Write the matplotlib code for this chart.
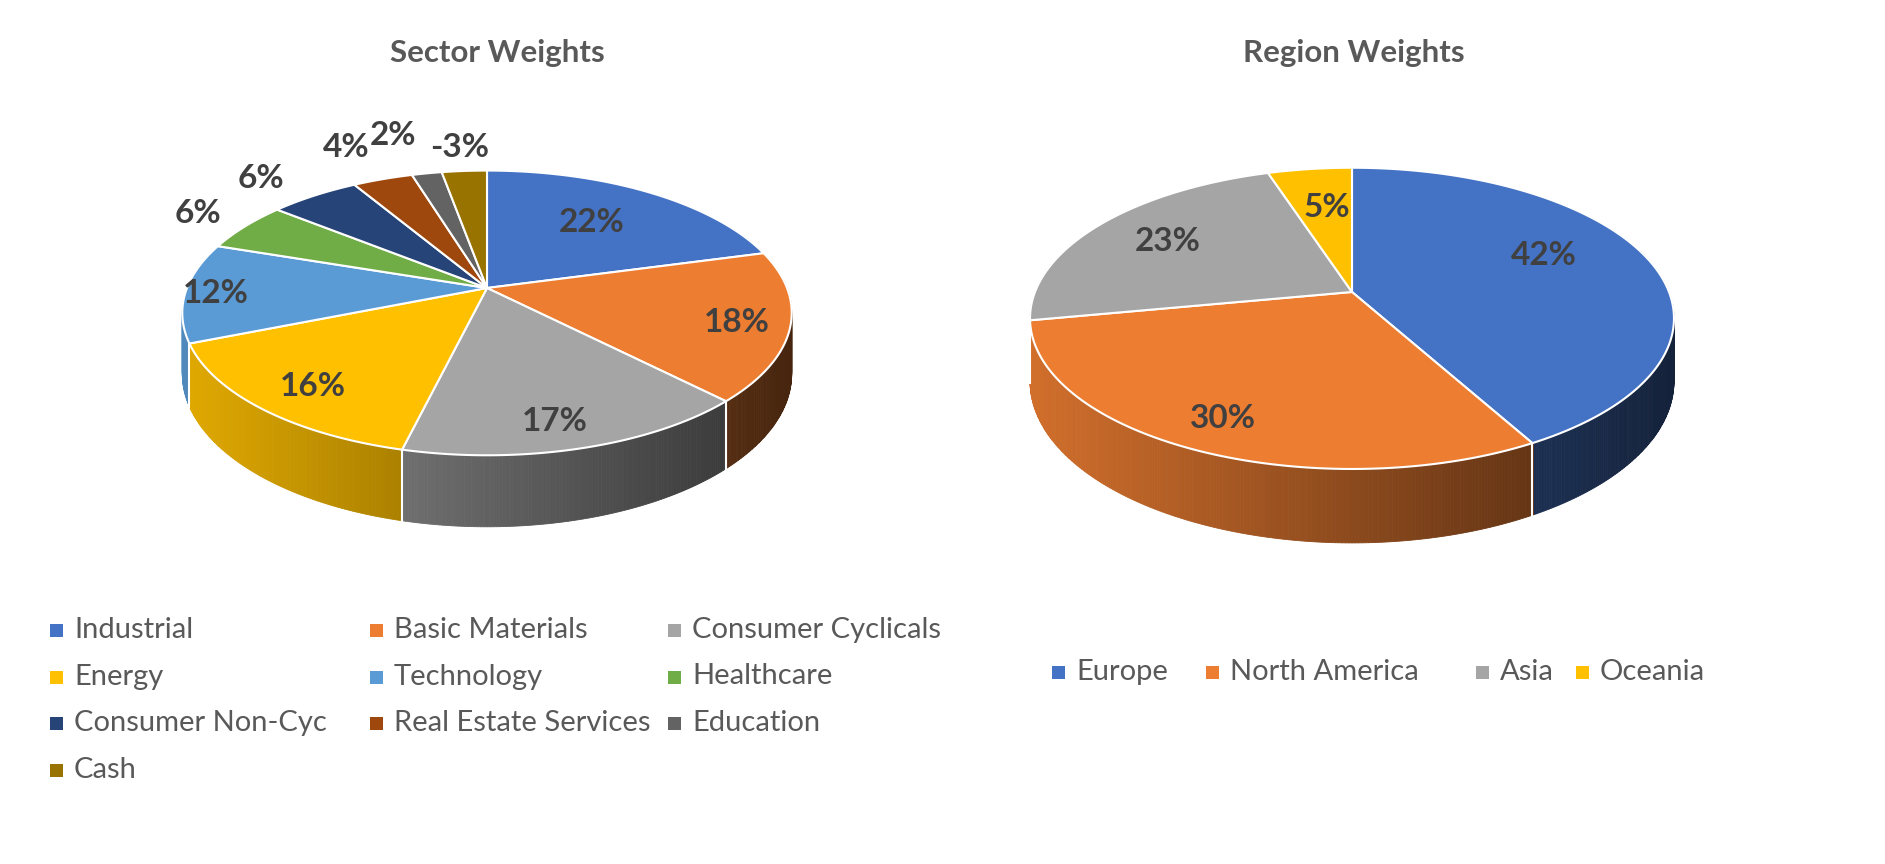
import numpy as np
import matplotlib.pyplot as plt
from matplotlib.colors import to_rgb

plt.rcParams['font.family'] = ['Lato', 'DejaVu Sans']

# data
sector_names = ["Industrial", "Basic Materials", "Consumer Cyclicals", "Energy",
                "Technology", "Healthcare", "Consumer Non-Cyc",
                "Real Estate Services", "Education", "Cash"]
sector_values = [22, 18, 17, 16, 12, 6, 6, 4, 2, -3]
sector_colors = ["#4472C4", "#ED7D31", "#A5A5A5", "#FFC000", "#5B9BD5",
                 "#70AD47", "#264478", "#9E480E", "#636363", "#997300"]

region_names = ["Europe", "North America", "Asia", "Oceania"]
region_values = [42, 30, 23, 5]
region_colors = ["#4472C4", "#ED7D31", "#A5A5A5", "#FFC000"]

# label placement: distance from centre (fraction of radius) and a pixel nudge
sector_label_r = [0.65, 0.83, 0.8, 0.81, 0.9, 1.24, 1.22, 1.3, 1.32, 1.26]
sector_label_nudge = [(-4, 0), (0, 3), (-5, 10), (4, 4), (0, 2),
                      (6, 0), (-20, 0), (-11, -5), (-18, -8), (0, 2)]
region_label_r = [0.72, 0.83, 0.73, 0.65]
region_label_nudge = [(-23, -11), (0, 0), (3, 0), (4, 0)]

K = 0.175  # perspective strength
LABEL_COLOR = "#404040"
TEXT_COLOR = "#595959"

left_pie = dict(cx=487, cy=288, rx=300, ry=138, depth=59)
right_pie = dict(cx=1352, cy=292, rx=317, ry=146, depth=61)


def proj(pie, t, rho=1.0, drop=0.0):
    u = rho * np.cos(t)
    v = rho * np.sin(t)
    s = 1.0 / (1.0 + K * v)
    x = pie["cx"] + pie["rx"] * u * s
    y = pie["cy"] - pie["ry"] * v * s + drop * pie["depth"] * s
    return x, y


def draw_pie(ax, pie, values, colors, label_r, label_nudge):
    sizes = np.abs(np.array(values, dtype=float))
    cum = np.cumsum(sizes) / sizes.sum() * 360
    bounds = np.radians(90 - np.concatenate([[0], cum]))

    # side wall, far strips first
    n = 720
    ts = np.linspace(-np.pi, np.pi, n + 1)
    strips = []
    for i in range(n):
        tm = 0.5 * (ts[i] + ts[i + 1])
        if np.sin(tm) > 0.3:
            continue
        deg = (90 - np.degrees(tm)) % 360
        idx = min(np.searchsorted(cum, deg, side="right"), len(sizes) - 1)
        strips.append((np.sin(tm), ts[i], ts[i + 1], idx))
    strips.sort(key=lambda s: -s[0])
    left = pie["cx"] - pie["rx"]
    for v, t0, t1, idx in strips:
        tt = np.linspace(t0, t1, 3)
        xt, yt = proj(pie, tt)
        xb, yb = proj(pie, tt[::-1], drop=1)
        xrel = (xt.mean() - left) / (2 * pie["rx"])
        f = np.clip(0.88 - 0.58 * xrel, 0.25, 1)
        c = np.array(to_rgb(colors[idx])) * f
        ax.fill(np.concatenate([xt, xb]), np.concatenate([yt, yb]),
                fc=c, ec=c, lw=0.6, zorder=1)

    # white seams on the visible side
    for b in bounds[:-1]:
        if np.sin(b) < -K:
            x0, y0 = proj(pie, b)
            x1, y1 = proj(pie, b, drop=1)
            ax.plot([x0, x1], [y0, y1], color="white", lw=1.5, zorder=2)

    # top face
    cx0, cy0 = proj(pie, 0.0, rho=0.0)
    for i in range(len(sizes)):
        tt = np.linspace(bounds[i], bounds[i + 1], 200)
        x, y = proj(pie, tt)
        ax.fill(np.concatenate([[cx0], x]), np.concatenate([[cy0], y]),
                fc=colors[i], ec="white", lw=1.5, zorder=3)

    # labels
    for i, val in enumerate(values):
        mid = 0.5 * (bounds[i] + bounds[i + 1])
        x, y = proj(pie, mid, rho=label_r[i])
        dx, dy = label_nudge[i]
        ax.text(x + dx, y + dy, f"{val}%", ha="center", va="center",
                fontsize=24, fontweight="bold", color=LABEL_COLOR, zorder=5)


def draw_legend(ax, names, colors, x0, y0, col_w, row_h, ncol):
    for i, (name, c) in enumerate(zip(names, colors)):
        col, row = i % ncol, i // ncol
        x = x0 + col_w[col]
        y = y0 + row * row_h
        ax.add_patch(plt.Rectangle((x, y - 6), 13, 13, fc=c, ec="none"))
        ax.text(x + 24, y, name, ha="left", va="center", fontsize=21,
                color=TEXT_COLOR)


fig = plt.figure(figsize=(18.85, 8.64), dpi=100)
ax = fig.add_axes([0, 0, 1, 1])
ax.set_xlim(0, 1885)
ax.set_ylim(864, 0)
ax.axis("off")

draw_pie(ax, left_pie, sector_values, sector_colors,
         sector_label_r, sector_label_nudge)
draw_pie(ax, right_pie, region_values, region_colors,
         region_label_r, region_label_nudge)

ax.text(497, 53, "Sector Weights", ha="center", va="center", fontsize=22.5,
        fontweight="bold", color=TEXT_COLOR)
ax.text(1354, 53, "Region Weights", ha="center", va="center", fontsize=22.5,
        fontweight="bold", color=TEXT_COLOR)

draw_legend(ax, sector_names, sector_colors, 50, 630, [0, 320, 618], 46.5, 3)
draw_legend(ax, region_names, region_colors, 1052, 672, [0, 154, 424, 524], 0, 4)

fig.savefig("out.png", dpi=100)
